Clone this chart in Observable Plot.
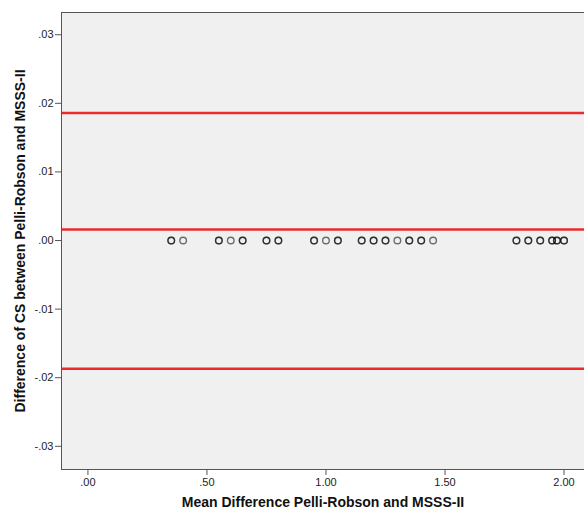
<!DOCTYPE html>
<html>
<head>
<meta charset="utf-8">
<script src="https://cdn.jsdelivr.net/npm/d3@7"></script>
<script src="https://cdn.jsdelivr.net/npm/@observablehq/plot@0.6"></script>
<style>
  html, body { margin: 0; padding: 0; background: #fff; }
  svg { font-family: Arial, "Liberation Sans", sans-serif; }
</style>
</head>
<body>
<div id="chart"></div>
<script>
// Mean of the two methods (x) — repeated values are overlapping observations
const meanValues = [
  0.35, 0.35, 0.40,
  0.55, 0.55, 0.60, 0.65, 0.65,
  0.75, 0.75, 0.80, 0.80,
  0.95, 0.95, 1.00, 1.05, 1.05,
  1.15, 1.15, 1.20, 1.20, 1.25, 1.25, 1.30, 1.35, 1.35, 1.40, 1.40, 1.45,
  1.80, 1.80, 1.85, 1.85, 1.90, 1.90, 1.95, 1.95, 1.97, 1.97, 2.00, 2.00
];
// Difference between methods (y) — all zero
const diffValues = meanValues.map(() => 0);
// Reference lines: upper limit, mean difference, lower limit
const refLines = [0.0186, 0.0016, -0.0187];
const xTicks = [0, 0.5, 1.0, 1.5, 2.0];
const yTicks = [0.03, 0.02, 0.01, 0, -0.01, -0.02, -0.03];
const xTitle = "Mean Difference Pelli-Robson and MSSS-II";
const yTitle = "Difference of CS between Pelli-Robson and MSSS-II";

const points = meanValues.map((m, i) => ({mean: m, diff: diffValues[i]}));
const fmt = d => {
  const s = Math.abs(d).toFixed(2).replace(/^0\./, ".");
  return d < 0 ? "-" + s : s;
};

const chart = Plot.plot({
  width: 584,
  height: 516,
  marginLeft: 61,
  marginRight: 0,
  marginTop: 12,
  marginBottom: 47,
  style: {fontFamily: "Arial, 'Liberation Sans', sans-serif", fontSize: "11px", color: "#222", background: "#fff"},
  x: {domain: [-0.111, 2.086]},
  y: {domain: [-0.03338, 0.03324]},
  marks: [
    Plot.frame({fill: "#f0f0f0", stroke: null}),
    Plot.ruleY(refLines, {stroke: "#ec2a2e", strokeWidth: 2.6}),
    Plot.dot(points, {x: "mean", y: "diff", r: 3.3, stroke: "#000", strokeWidth: 1.4, strokeOpacity: 0.55, fill: "none"}),
    Plot.axisX(xTicks, {tickFormat: fmt, tickSize: 6, tickPadding: 3, stroke: "#555", fill: "#222", fontSize: 11, label: null}),
    Plot.axisY(yTicks, {tickFormat: fmt, tickSize: 6, tickPadding: 2, stroke: "#555", fill: "#222", fontSize: 11, label: null}),
    Plot.frame({anchor: "left", stroke: "#555"}),
    Plot.frame({anchor: "bottom", stroke: "#555"}),
    Plot.frame({anchor: "top", stroke: "#555"}),
    Plot.text([xTitle], {frameAnchor: "bottom", dy: 37, textAnchor: "middle", fontWeight: "bold", fontSize: 14, fill: "#111"}),
    Plot.text([yTitle], {frameAnchor: "left", dx: -41, textAnchor: "middle", rotate: -90, fontWeight: "bold", fontSize: 14, fill: "#111"})
  ]
});
document.getElementById("chart").appendChild(chart);
</script>
</body>
</html>
